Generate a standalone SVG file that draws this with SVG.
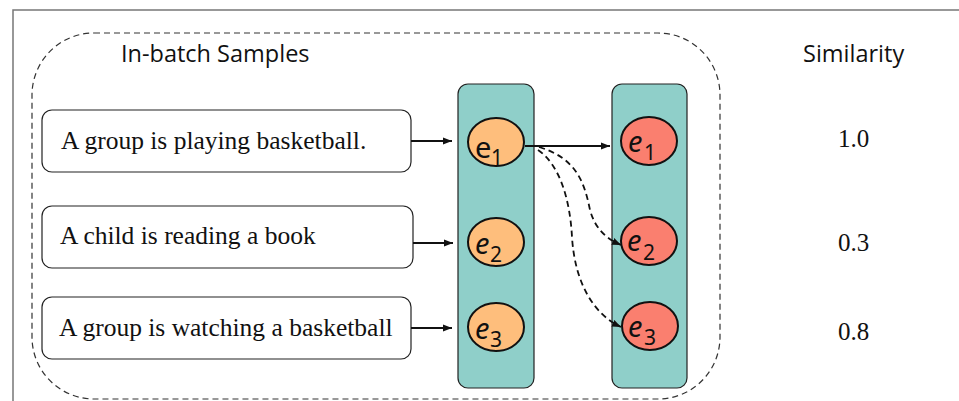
<svg xmlns="http://www.w3.org/2000/svg" width="959" height="401" viewBox="0 0 959 401">
<defs>
<style>
.frame{fill:none;stroke:#777;stroke-width:1.5}
.batch{fill:none;stroke:#333;stroke-width:1.2;stroke-dasharray:6 4}
.box{fill:#fff;stroke:#222;stroke-width:1.2}
.col{fill:#8fcfc9;stroke:#222;stroke-width:1.2}
.orange{fill:#febe7c;stroke:#111;stroke-width:2}
.red{fill:#fa7f6f;stroke:#111;stroke-width:2}
.sent{font-family:"Liberation Serif",serif;font-size:25.5px;fill:#111}
.sans{font-family:"Open Sans","Liberation Sans",sans-serif;font-size:23.5px;fill:#111}
.num{font-family:"Liberation Serif",serif;font-size:25px;fill:#111}
.e{font-family:"Noto Sans","DejaVu Sans",sans-serif;font-size:29px;fill:#111}
.sub{font-family:"Noto Sans","Liberation Sans",sans-serif;font-size:21px;fill:#111}
.line{fill:none;stroke:#111;stroke-width:1.8}
.dash{fill:none;stroke:#111;stroke-width:1.8;stroke-dasharray:6 4}
</style>
<marker id="ah" viewBox="0 0 10 10" refX="10" refY="5" markerWidth="5" markerHeight="5" orient="auto"><path d="M0,1 L10,5 L0,9 z" fill="#111"/></marker>
</defs>
<rect width="959" height="401" fill="#fff"/>
<path class="frame" d="M13,401 V10 H959"/>
<rect class="batch" x="32" y="33" width="688" height="366" rx="62"/>
<text class="sans" x="121" y="62">In-batch Samples</text>
<text class="sans" x="803" y="62">Similarity</text>
<g id="sim"><text class="num" x="838" y="147">1.0</text><text class="num" x="838" y="251">0.3</text><text class="num" x="838" y="340">0.8</text></g>
<g id="s1"><rect class="box" x="42" y="110" width="369" height="62" rx="10"/><text class="sent" x="61" y="149">A group is playing basketball.</text></g>
<g id="s2"><rect class="box" x="42" y="206" width="371" height="62" rx="10"/><text class="sent" x="60" y="244">A child is reading a book</text></g>
<g id="s3"><rect class="box" x="42" y="297" width="369" height="62" rx="10"/><text class="sent" x="59" y="336">A group is watching a basketball</text></g>
<g id="colL"><rect class="col" x="458" y="84" width="76" height="304" rx="10"/></g>
<g id="colR"><rect class="col" x="612" y="84" width="75" height="304" rx="10"/></g>
<g id="l1"><ellipse class="orange" cx="496" cy="142" rx="28" ry="24"/><text class="e" x="475" y="158">e</text><text class="sub" x="491" y="165">1</text></g>
<g id="l2"><ellipse class="orange" cx="496" cy="242" rx="28" ry="24"/><text class="e" x="475" y="254" font-style="italic">e</text><text class="sub" x="490" y="262">2</text></g>
<g id="l3"><ellipse class="orange" cx="496" cy="327" rx="28" ry="24"/><text class="e" x="475" y="339" font-style="italic">e</text><text class="sub" x="490" y="347">3</text></g>
<g id="r1"><ellipse class="red" cx="649" cy="141" rx="28" ry="24"/><text class="e" x="628" y="152" font-style="italic">e</text><text class="sub" x="644" y="160">1</text></g>
<g id="r2"><ellipse class="red" cx="649" cy="241" rx="28" ry="24"/><text class="e" x="627" y="251" font-style="italic">e</text><text class="sub" x="643" y="260">2</text></g>
<g id="r3"><ellipse class="red" cx="650" cy="326" rx="28" ry="24"/><text class="e" x="628" y="337" font-style="italic">e</text><text class="sub" x="644" y="345">3</text></g>
<g id="connectors">
<line class="line" x1="411" y1="141" x2="452" y2="141" marker-end="url(#ah)"/>
<line class="line" x1="413" y1="243" x2="453" y2="243" marker-end="url(#ah)"/>
<line class="line" x1="411" y1="328" x2="452" y2="328" marker-end="url(#ah)"/>
<line class="line" x1="525" y1="146" x2="610" y2="146" marker-end="url(#ah)"/>
<path class="dash" d="M539,147 C575,158 584,180 590,210 C595,228 605,238 621,245" marker-end="url(#ah)"/>
<path class="dash" d="M538,150 C560,165 570,200 572,237 C575,285 595,315 621,327" marker-end="url(#ah)"/>
</g>
</svg>
